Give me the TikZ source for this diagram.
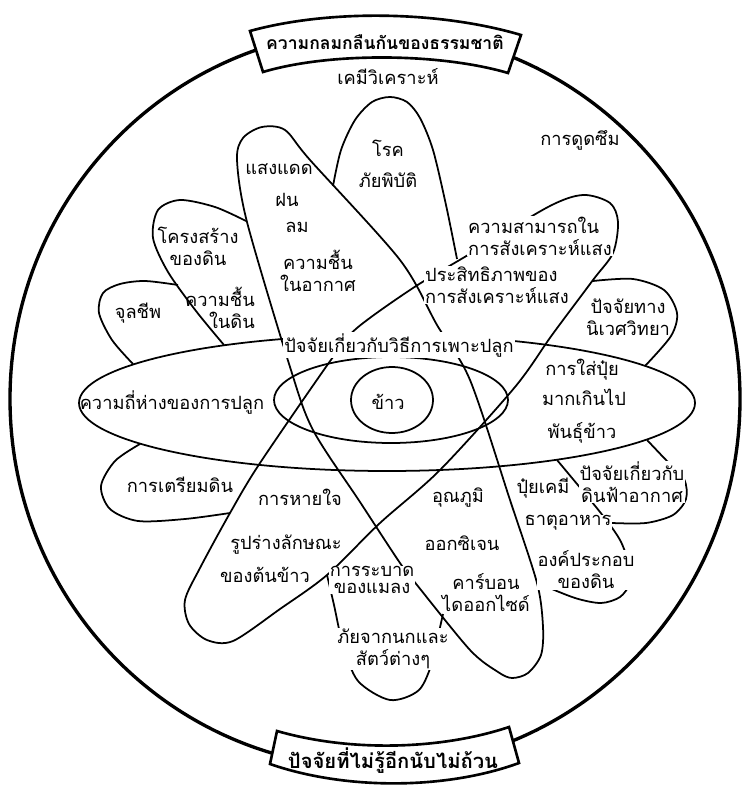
\documentclass[tikz,border=0pt]{standalone}
\usepackage{fontspec}
\setmainfont[Script=Thai]{Loma}

\begin{document}
\begin{tikzpicture}[x=0.02cm, y=-0.02cm, txt/.style = {inner sep=0.5pt, align=center, font=\fontsize{10.4}{12.5}\selectfont}, cut/.style = {txt, fill=white}, ring/.style = {line width=1.9pt}, orbit/.style = {line width=1pt}, band/.style = {draw, fill=white, line width=1.5pt}]
\useasboundingbox (0,0) rectangle (743,786);

\draw[ring] (375,399) ellipse [x radius=365, y radius=369];

\draw[orbit] (387,403) ellipse [x radius=308, y radius=68];
\draw[orbit] (391,400) ellipse [x radius=117, y radius=43];
\draw[orbit] (392,400) ellipse [x radius=41, y radius=33];

\draw[orbit] plot[smooth cycle] coordinates {(237,160) (243,138) (262,127) (285,130) (310,160) (400,260) (437,325) (470,380) (510,500) (537,583) (543,627) (541,655) (528,673) (512,678) (498,672) (470,650) (417,585) (400,563) (360,502) (313,430) (290,367) (247,222)};
\draw[orbit] plot[smooth cycle] coordinates {(548,207) (583,195) (610,203) (618,222) (613,253) (593,280) (552,335) (515,387) (440,470) (380,523) (327,575) (280,609) (233,641) (207,640) (189,624) (185,600) (200,568) (230,513) (260,463) (333,357) (357,328) (413,288) (468,255)};
\draw[orbit] plot[smooth] coordinates {(333,186) (341,150) (355,120) (372,102) (390,97) (407,102) (420,118) (433,150) (446,205) (457,259)};
\draw[orbit] plot[smooth] coordinates {(327,575) (334,605) (343,645) (358,681) (390,700) (419,690) (433,660) (439,632) (443,614)};
\draw[orbit] plot[smooth] coordinates {(133,364) (112,340) (99,313) (103,293) (120,284) (145,281) (178,285)};
\draw[orbit] plot[smooth] coordinates {(224,345) (196,311) (168,272) (153,238) (158,210) (180,200) (215,207) (246,221)};
\draw[orbit] plot[smooth] coordinates {(140,444) (115,461) (101,486) (110,509) (138,521) (185,519) (230,513)};
\draw[orbit] plot[smooth] coordinates {(593,281) (633,279) (664,290) (677,313) (671,336) (645,366)};
\draw[orbit] plot[smooth] coordinates {(647,440) (665,459) (684,479) (686,499) (673,515) (646,523) (612,523)};
\draw[orbit] plot[smooth] coordinates {(557,460) (600,512) (620,540) (629,565) (630,583) (620,597) (601,603) (575,598) (540,584)};

\node[txt] (2) at (388,77) {เคมีวิเคราะห์};
\node[txt] (3) at (580,140) {การดูดซึม};
\node[txt] (4) at (388,148) {โรค};
\node[txt] (5) at (388,180) {ภัยพิบัติ};
\node[txt] (6) at (279,169) {แสงแดด};
\node[txt] (7) at (287,200) {ฝน};
\node[txt] (8) at (297,227) {ลม};
\node[txt] (9) at (318,271) {ความชื้น\\ในอากาศ};
\node[txt] (10) at (198,246) {โครงสร้าง\\ของดิน};
\node[txt, align=right, anchor=east] (11) at (256,308) {ความชื้น\\ในดิน};
\node[txt] (12) at (138,313) {จุลชีพ};
\node[cut, align=left, anchor=west] (13) at (467,236) {ความสามารถใน\\การสังเคราะห์แสง};
\node[cut, align=left, anchor=west] (14) at (424,285) {ประสิทธิภาพของ\\การสังเคราะห์แสง};
\node[txt] (15) at (628,317) {ปัจจัยทาง\\นิเวศวิทยา};
\node[cut] (16) at (399,345) {ปัจจัยเกี่ยวกับวิธีการเพาะปลูก};
\node[txt] (17) at (172,402) {ความถี่ห่างของการปลูก};
\node[txt] (18) at (388,402) {ข้าว};
\node[txt] (19) at (582,370) {การใส่ปุ๋ย};
\node[txt] (20) at (584,397) {มากเกินไป};
\node[txt] (21) at (582,433) {พันธุ์ข้าว};
\node[txt] (22) at (180,485) {การเตรียมดิน};
\node[txt] (23) at (300,497) {การหายใจ};
\node[txt] (24) at (458,498) {อุณภูมิ};
\node[txt] (25) at (543,488) {ปุ๋ยเคมี};
\node[cut] (26) at (632,482) {ปัจจัยเกี่ยวกับ\\ดินฟ้าอากาศ};
\node[cut] (27) at (568,523) {ธาตุอาหาร};
\node[txt] (28) at (462,543) {ออกซิเจน};
\node[cut] (29) at (586,570) {องค์ประกอบ\\ของดิน};
\node[txt] (30) at (286,545) {รูปร่างลักษณะ};
\node[txt] (31) at (265,575) {ของต้นข้าว};
\node[cut] (32) at (372,580) {การระบาด\\[-3pt]ของแมลง};
\node[txt] (33) at (486,593) {คาร์บอน\\ไดออกไซด์};
\node[cut] (34) at (393,649) {ภัยจากนกและ\\สัตว์ต่างๆ};

\draw[band] (250,31) .. controls (330,9) and (440,11) .. (521,35) -- (508,73) .. controls (440,53) and (330,52) .. (263,72) -- cycle;
\draw[band] (277,731) .. controls (350,752) and (440,750) .. (509,727) -- (519,763) .. controls (445,790) and (345,790) .. (270,764) -- cycle;
\node[txt, font=\fontsize{10}{12}\selectfont\bfseries] (1) at (385,42) {ความกลมกลืนกันของธรรมชาติ};
\node[txt, font=\fontsize{11.5}{13}\selectfont\bfseries] (35) at (393,761) {ปัจจัยที่ไม่รู้อีกนับไม่ถ้วน};
\end{tikzpicture}
\end{document}
